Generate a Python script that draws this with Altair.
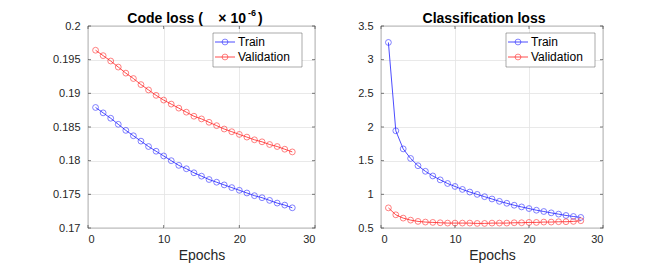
import altair as alt
import pandas as pd

epochs = list(range(1, 28))
series_names = ["Train", "Validation"]
series_colors = ["#1f1fff", "#ff1f1f"]

code_train = [0.1879, 0.1871, 0.1863, 0.1854, 0.1845, 0.1837, 0.1829, 0.1821, 0.1814,
              0.1807, 0.1800, 0.1793, 0.1788, 0.1782, 0.1777, 0.1772, 0.1768, 0.1764,
              0.1760, 0.1756, 0.1752, 0.1748, 0.1745, 0.1741, 0.1737, 0.1734, 0.1730]
code_val = [0.1964, 0.1956, 0.1948, 0.1939, 0.1930, 0.1922, 0.1913, 0.1905, 0.1897,
            0.1890, 0.1884, 0.1878, 0.1872, 0.1866, 0.1862, 0.1857, 0.1852, 0.1847,
            0.1843, 0.1839, 0.1835, 0.1831, 0.1828, 0.1824, 0.1821, 0.1817, 0.1813]
cls_train = [3.256, 1.944, 1.675, 1.533, 1.425, 1.342, 1.273, 1.215, 1.161, 1.117,
             1.073, 1.034, 0.999, 0.965, 0.931, 0.896, 0.867, 0.838, 0.813, 0.789,
             0.764, 0.745, 0.725, 0.706, 0.686, 0.671, 0.657]
cls_val = [0.799, 0.696, 0.647, 0.617, 0.598, 0.588, 0.583, 0.578, 0.573, 0.573,
           0.573, 0.573, 0.568, 0.568, 0.573, 0.573, 0.573, 0.578, 0.578, 0.583,
           0.583, 0.588, 0.588, 0.593, 0.593, 0.598, 0.608]

x_ticks = [0, 10, 20, 30]
code_ticks = [0.17, 0.175, 0.18, 0.185, 0.19, 0.195, 0.2]
cls_ticks = [0.5, 1, 1.5, 2, 2.5, 3, 3.5]

FONT = "Liberation Sans"
INK = "#262626"


def make_df(train, val):
    rows = []
    for name, vals in zip(series_names, [train, val]):
        for e, v in zip(epochs, vals):
            rows.append({"epoch": e, "loss": v, "series": name})
    return pd.DataFrame(rows)


def one():
    return pd.DataFrame({"k": [0]})


def panel(train, val, yticks, W, H, y_extent, title_layers):
    df = make_df(train, val)
    xs = alt.Scale(domain=[0, 30], nice=False)
    ys = alt.Scale(domain=[yticks[0], yticks[-1]], nice=False, zero=False)
    xax = alt.Axis(values=x_ticks, format="~r", title="Epochs", labelOverlap=False)
    yax = alt.Axis(values=yticks, format="~r", title=None, labelOverlap=False,
                   minExtent=y_extent, maxExtent=y_extent)
    color = alt.Color("series:N", scale=alt.Scale(domain=series_names, range=series_colors), legend=None)
    xenc = alt.X("epoch:Q", scale=xs, axis=xax)
    yenc = alt.Y("loss:Q", scale=ys, axis=yax)
    base = alt.Chart(df)
    lines = base.mark_line(strokeWidth=0.8).encode(x=xenc, y=yenc, color=color, detail="series:N")
    pts = base.mark_point(shape="circle", filled=False, size=34, strokeWidth=0.8).encode(
        x=xenc, y=yenc, color=color)

    xt = pd.DataFrame({"t": x_ticks})
    yt = pd.DataFrame({"t": yticks})
    tick_rule = dict(color=INK, strokeWidth=0.6)
    xte = alt.X("t:Q", scale=xs, axis=xax, title="Epochs")
    yte = alt.Y("t:Q", scale=ys, axis=yax, title=None)
    xb = alt.Chart(xt).mark_rule(**tick_rule).encode(x=xte, y=alt.value(H), y2=alt.value(H - 3))
    xtp = alt.Chart(xt).mark_rule(**tick_rule).encode(x=xte, y=alt.value(0), y2=alt.value(3))
    yl = alt.Chart(yt).mark_rule(**tick_rule).encode(y=yte, x=alt.value(0), x2=alt.value(3))
    yr = alt.Chart(yt).mark_rule(**tick_rule).encode(y=yte, x=alt.value(W), x2=alt.value(W - 3))

    top = 7
    leg = [alt.Chart(one()).mark_rect(fill="white", stroke="#555555", strokeWidth=0.5).encode(
        x=alt.value(125), x2=alt.value(214), y=alt.value(top), y2=alt.value(top + 34))]
    for i, (name, col) in enumerate(zip(series_names, series_colors)):
        yy = top + 9 + 15 * i
        leg.append(alt.Chart(one()).mark_rule(color=col, strokeWidth=0.8).encode(
            x=alt.value(127), x2=alt.value(147), y=alt.value(yy)))
        leg.append(alt.Chart(one()).mark_point(shape="circle", filled=False, size=34, strokeWidth=0.8,
                                               color=col).encode(x=alt.value(137), y=alt.value(yy)))
        leg.append(alt.Chart(one()).mark_text(align="left", baseline="middle", font=FONT, fontSize=12,
                                              fontWeight="normal", color="black").encode(
            x=alt.value(150), y=alt.value(yy), text=alt.value(name)))

    return alt.layer(lines, pts, xb, xtp, yl, yr, *leg, *title_layers).properties(width=W, height=H)


def tl(text, x, y, size=14, align="left"):
    return alt.Chart(one()).mark_text(
        align=align, baseline="alphabetic", font=FONT, fontSize=size, fontWeight="bold", color="black"
    ).encode(x=alt.value(x), y=alt.value(y), text=alt.value(text))


NB = "\u00a0"
left_titles = [tl("Code loss (" + NB * 4 + "\u00d7 10", 158, -3, align="right"),
               tl("-6", 160, -10, size=9), tl(")", 170, -3)]
right_titles = [tl("Classification loss", 103, -3, align="center")]

left = panel(code_train, code_val, code_ticks, 227, 202, 79, left_titles)
right = panel(cls_train, cls_val, cls_ticks, 222, 202, 30, right_titles)

chart = alt.hconcat(left, right, spacing=66, bounds="flush").properties(
    padding={"left": 0, "top": 0, "right": 0, "bottom": 0}
).configure_view(stroke=INK, strokeWidth=0.8).configure_axis(
    grid=True, gridColor="#e3e3e3", gridWidth=0.8, domain=False, ticks=False,
    labelFont=FONT, labelFontSize=11, labelColor=INK, labelPadding=8,
    titleFont=FONT, titleFontSize=14, titleFontWeight="normal", titleColor=INK, titlePadding=4,
).configure_axisX(labelPadding=5)

chart.save("out.html", embed_options={"renderer": "svg", "actions": False})
